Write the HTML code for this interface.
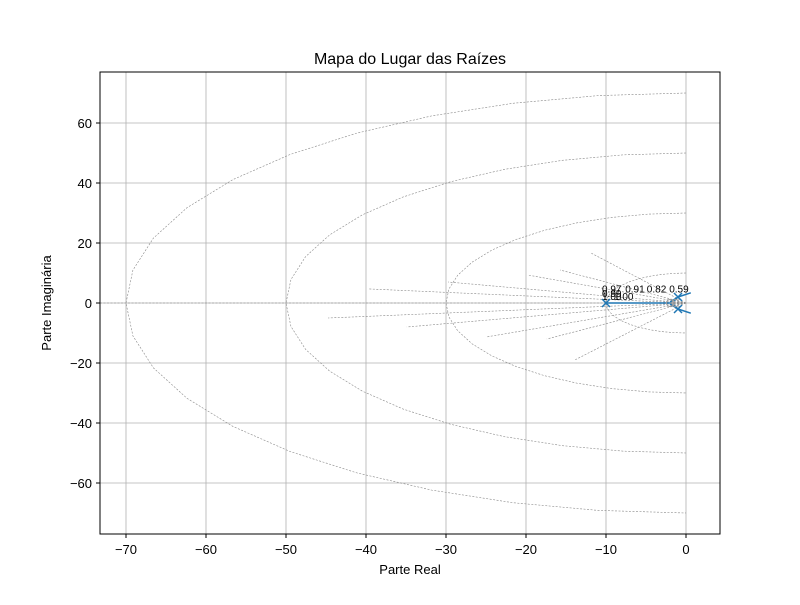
<!DOCTYPE html>
<html><head><meta charset="utf-8"><style>
body{margin:0;background:#fff;font-family:"Liberation Sans","DejaVu Sans",sans-serif}
</style></head><body>
<svg id="chart" width="800" height="600" xmlns="http://www.w3.org/2000/svg" font-family="Liberation Sans, DejaVu Sans, sans-serif">
<rect width="800" height="600" fill="#fff"/>
<g id="grid"></g><g id="sg"></g><g id="locus"></g>
<rect x="100" y="72" width="620" height="462" fill="none" stroke="#000" stroke-width="1"/>
<g id="ticks" font-size="13"></g>
<text x="410" y="64" text-anchor="middle" font-size="16">Mapa do Lugar das Raízes</text>
<text x="410" y="574" text-anchor="middle" font-size="13">Parte Real</text>
<text transform="translate(51,303) rotate(-90)" text-anchor="middle" font-size="13">Parte Imaginária</text>
</svg>
<script>
const xTicks=[-70,-60,-50,-40,-30,-20,-10,0];
const yTicks=[-60,-40,-20,0,20,40,60];
const wnCircles=[10,30,50,70];
const zetaRaysX=[-39.75,-44.75,-34.9,-29.75,-24.9,-19.75,-17.4,-15.75,-13.9,-11.9];
const zetaRaysY=[4.7,-5,-8,7,-11.3,9.3,-12,11,-19,16.7];
const poleRe=[-10,-1,-1];
const poleIm=[0,2,-2];
const zeroRe=[-2,-1.3];
const zeroIm=[0,0];
const branch1Re=[-10,-2];const branch1Im=[0,0];
const branch2Re=[-1,0.6];const branch2Im=[2,3.4];
const branch3Re=[-1,0.6];const branch3Im=[-2,-3.4];
const branch4Re=[-1,-2];const branch4Im=[2,0.3];
const branch5Re=[-1,-2];const branch5Im=[-2,-0.3];
const zetaLabels=["0.97","0.99","1.00","1.00","0.91","0.82","0.59"];
const zetaLabelRe=[-10.5,-10.5,-10.5,-9,-7.6,-4.9,-2.1];
const zetaLabelIm=[3.5,2,1,1,3.5,3.5,3.5];
const X=v=>686+v*8, Y=v=>303-v*3;
const NS="http://www.w3.org/2000/svg";
function mk(p,t,a){const e=document.createElementNS(NS,t);for(const k in a)e.setAttribute(k,a[k]);p.appendChild(e);return e;}
const grid=document.getElementById('grid'),ticks=document.getElementById('ticks'),sg=document.getElementById('sg'),lc=document.getElementById('locus');
xTicks.forEach(v=>{const l=mk(grid,'line',{x1:X(v),x2:X(v),y1:72,y2:534,stroke:'#b0b0b0','stroke-width':0.8});


mk(ticks,'line',{x1:X(v),x2:X(v),y1:534,y2:538,stroke:'#000'});
const t=mk(ticks,'text',{x:X(v),y:554,'text-anchor':'middle'});t.textContent=(v<0?'\u2212'+(-v):v);

});
yTicks.forEach(v=>{const l=mk(grid,'line',{x1:100,x2:720,y1:Y(v),y2:Y(v),stroke:'#b0b0b0','stroke-width':0.8});


mk(ticks,'line',{x1:96,x2:100,y1:Y(v),y2:Y(v),stroke:'#000'});
const t=mk(ticks,'text',{x:92,y:Y(v)+5,'text-anchor':'end'});t.textContent=(v<0?'\u2212'+(-v):v);

});
wnCircles.forEach(r=>{const pts=[];for(let i=0;i<=20;i++){const a=Math.PI/2+Math.PI*i/20;pts.push(X(r*Math.cos(a))+','+Y(r*Math.sin(a)));}
const p=mk(sg,'polyline',{points:pts.join(' '),fill:'none',stroke:'#888','stroke-width':0.6,'stroke-dasharray':'2,1.5'});

});
mk(sg,'line',{x1:X(-73.25),x2:X(0),y1:Y(0),y2:Y(0),stroke:'#888','stroke-width':0.6,'stroke-dasharray':'2,1.5'});
zetaRaysX.forEach((x,i)=>{const l=mk(sg,'line',{x1:X(0),y1:Y(0),x2:X(x),y2:Y(zetaRaysY[i]),stroke:'#888','stroke-width':0.6,'stroke-dasharray':'2,1.5'});

});
zetaLabels.forEach((s,i)=>{const t=mk(sg,'text',{x:X(zetaLabelRe[i]),y:Y(zetaLabelIm[i]),'font-size':10});t.textContent=s;

});
[[branch1Re,branch1Im],[branch2Re,branch2Im],[branch3Re,branch3Im],[branch4Re,branch4Im],[branch5Re,branch5Im]].forEach(([r,im])=>{
const p=mk(lc,'polyline',{points:r.map((v,i)=>X(v)+','+Y(im[i])).join(' '),fill:'none',stroke:'#1f77b4','stroke-width':1.5});

});
poleRe.forEach((v,i)=>{const x=X(v),y=Y(poleIm[i]);const p=mk(lc,'path',{d:`M${x-4},${y-4}L${x+4},${y+4}M${x-4},${y+4}L${x+4},${y-4}`,stroke:'#1f77b4','stroke-width':1.5});

});
zeroRe.forEach((v,i)=>{const c=mk(lc,'circle',{cx:X(v),cy:Y(zeroIm[i]),r:3.5,fill:'none',stroke:'#999','stroke-width':1});

});
</script>
</body></html>
